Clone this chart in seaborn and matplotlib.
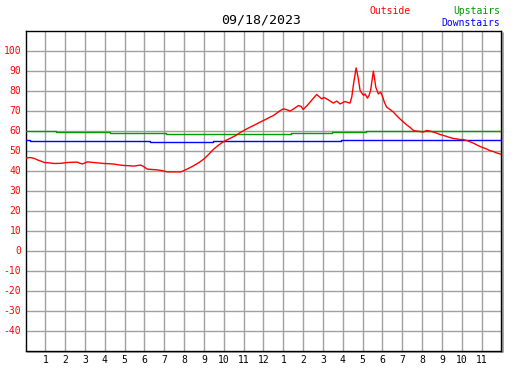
import numpy as np
import pandas as pd
import matplotlib
matplotlib.use("Agg")
import matplotlib.pyplot as plt
import matplotlib.transforms as mtransforms
import seaborn as sns

# --- dati (ore dalla mezzanotte, gradi F) ---
outside_hours = [0.0, 0.25, 0.45, 0.6, 0.8, 0.95, 1.2, 1.45, 1.8, 2.1, 2.4, 2.6, 2.75, 2.86, 3.0,
                 3.12, 3.45, 3.7, 3.96, 4.2, 4.46, 4.7, 4.97, 5.2, 5.47, 5.65, 5.81, 5.95, 6.14,
                 6.4, 6.65, 6.9, 7.15, 7.5, 7.82, 8.0, 8.25, 8.5, 8.75, 9.0, 9.25, 9.5, 9.75,
                 10.0, 10.3, 10.6, 10.83, 11.1, 11.33, 11.6, 11.83, 12.1, 12.33, 12.5, 12.67,
                 12.85, 13.0, 13.15, 13.34, 13.55, 13.76, 13.9, 14.0, 14.2, 14.35, 14.55, 14.68,
                 14.8, 14.94, 15.05, 15.19, 15.35, 15.52, 15.69, 15.86, 16.0, 16.11, 16.25,
                 16.36, 16.45, 16.55, 16.67, 16.78, 16.87, 16.95, 17.05, 17.12, 17.24, 17.32,
                 17.4, 17.47, 17.54, 17.6, 17.66, 17.79, 17.91, 18.01, 18.1, 18.21, 18.38,
                 18.55, 18.7, 18.88, 19.05, 19.22, 19.4, 19.56, 19.7, 19.89, 20.05, 20.23,
                 20.4, 20.57, 20.75, 20.9, 21.05, 21.24, 21.4, 21.58, 21.75, 21.9, 22.05,
                 22.25, 22.4, 22.58, 22.75, 22.92, 23.1, 23.26, 23.4, 23.59, 23.75, 23.93, 24.0]
outside_temp = [46.2, 46.5, 46.0, 45.3, 44.6, 44.0, 43.8, 43.5, 43.6, 44.0, 44.1, 44.2, 43.6, 43.3, 43.8,
                44.3, 44.0, 43.8, 43.5, 43.4, 43.2, 42.8, 42.5, 42.4, 42.2, 42.5, 42.7, 42.0, 40.7,
                40.5, 40.3, 39.9, 39.3, 39.3, 39.3, 40.0, 41.2, 42.5, 44.0, 45.8, 48.2, 50.8, 52.8,
                54.5, 56.0, 57.5, 59.0, 60.5, 61.7, 63.0, 64.2, 65.5, 66.7, 67.5, 68.7,
                70.0, 70.8, 70.5, 69.7, 71.0, 72.5, 72.0, 70.5, 72.5, 74.2, 76.5, 78.0,
                77.0, 75.8, 76.5, 75.8, 74.8, 73.7, 74.7, 73.3, 74.0, 74.5, 74.0,
                73.7, 76.7, 84.0, 91.3, 86.0, 80.0, 78.8, 77.5, 78.3, 76.2, 77.5,
                80.0, 85.0, 89.7, 86.0, 81.7, 78.3, 79.2, 76.7, 74.0, 71.7, 70.5,
                69.2, 67.6, 65.8, 64.3, 62.8, 61.5, 60.0, 59.7, 59.5, 59.2, 60.0,
                59.7, 59.2, 58.6, 58.0, 57.6, 57.0, 56.5, 56.0, 55.8, 55.5, 55.5,
                55.0, 54.4, 53.7, 52.8, 52.0, 51.3, 50.7, 50.0, 49.5, 48.8, 48.3, 47.8]

upstairs_hours = [0.0, 1.54, 4.26, 7.07, 13.37, 15.44, 17.16, 24.0]
upstairs_temp = [59.9, 59.3, 58.8, 58.3, 59.0, 59.5, 60.0, 60.0]

downstairs_hours = [0.0, 0.25, 6.3, 9.47, 15.9, 24.0]
downstairs_temp = [55.3, 54.9, 54.3, 54.8, 55.3, 55.3]

hour_labels = ["1", "2", "3", "4", "5", "6", "7", "8", "9", "10", "11", "12",
               "1", "2", "3", "4", "5", "6", "7", "8", "9", "10", "11"]
y_ticks = list(range(-40, 101, 10))
date_title = "09/18/2023"

sns.set_theme(style="white")
plt.rcParams["font.family"] = ["DejaVu Sans Mono"]

fig = plt.figure(figsize=(5.27, 3.70), dpi=100)
ax = fig.add_axes([25.5 / 527, 19.5 / 370, 476 / 527, 320 / 370])

df_out = pd.DataFrame({"ora": outside_hours, "temp": outside_temp})
df_up = pd.DataFrame({"ora": upstairs_hours, "temp": upstairs_temp})
df_down = pd.DataFrame({"ora": downstairs_hours, "temp": downstairs_temp})

sns.lineplot(data=df_up, x="ora", y="temp", color="#009900", lw=1.0,
             drawstyle="steps-post", ax=ax, zorder=3)
sns.lineplot(data=df_down, x="ora", y="temp", color="#0000ff", lw=1.0,
             drawstyle="steps-post", ax=ax, zorder=3)
sns.lineplot(data=df_out, x="ora", y="temp", color="#ff0000", lw=1.0,
             ax=ax, zorder=4)

ax.set_xlim(0, 24)
ax.set_ylim(-50, 110)
ax.set_xticks(range(1, 24))
ax.set_xticklabels(hour_labels)
ax.set_yticks(y_ticks)
ax.set_yticklabels([str(v) for v in y_ticks])
ax.set_xlabel("")
ax.set_ylabel("")

# griglia
for h in range(1, 24):
    ax.axvline(h, color="#a0a0a0", lw=1.0, zorder=1)
for v in range(-40, 110, 10):
    ax.axhline(v, color="#a0a0a0", lw=1.0, zorder=1)

ax.tick_params(axis="both", direction="in", length=4, width=1.0, color="black",
               labelsize=7, pad=3)
ax.tick_params(axis="y", labelcolor="#ff0000")
ax.tick_params(axis="x", labelcolor="black")

for s in ax.spines.values():
    s.set_visible(True)
    s.set_color("black")
    s.set_linewidth(1.0)

# ombra grigia a destra e sotto
shadow = mtransforms.offset_copy(ax.transAxes, fig=fig, x=1.5, y=-1.5, units="dots")
ax.plot([1, 1, 0.003], [0.997, 0, 0], color="#a0a0a0", lw=1.3, transform=shadow,
        clip_on=False, zorder=0)

fig.text(261 / 527, 1 - 20 / 370, date_title, ha="center", va="center", fontsize=9.5, color="black")
fig.text(369 / 527, 1 - 11 / 370, "Outside", ha="left", va="center", fontsize=7, color="#ff0000")
fig.text(500 / 527, 1 - 11 / 370, "Upstairs", ha="right", va="center", fontsize=7, color="#009900")
fig.text(500 / 527, 1 - 23 / 370, "Downstairs", ha="right", va="center", fontsize=7, color="#0000ff")

fig.savefig("out.png", dpi=100)
